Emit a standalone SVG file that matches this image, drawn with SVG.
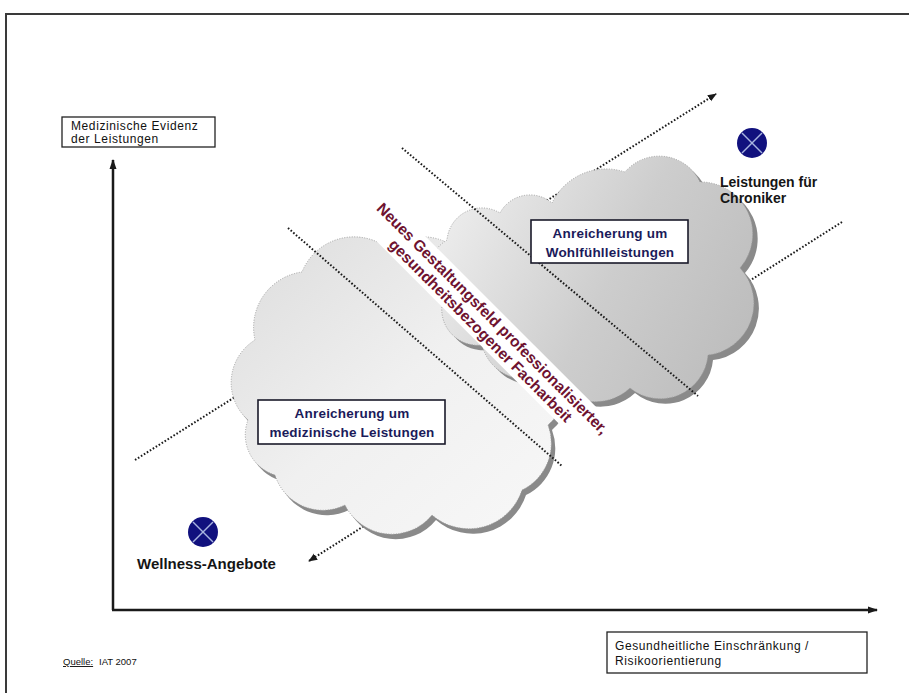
<svg xmlns="http://www.w3.org/2000/svg" width="909" height="693" viewBox="0 0 909 693">
<defs>
<style>
.frame{fill:none;stroke:#3a3a3a;stroke-width:2}
.axis{fill:none;stroke:#1a1a1a;stroke-width:2.5}
.dot{fill:none;stroke:#1a1a1a;stroke-width:2;stroke-dasharray:1.6 1.9}
.box{fill:#fff;stroke:#222;stroke-width:1.3}
.cbox{fill:#fff;stroke:#1a1a2a;stroke-width:1.6}
.lbl{font-family:"Liberation Sans",Arial,sans-serif;font-size:12px;letter-spacing:0.6px;fill:#111}
.src{font-family:"Liberation Sans",Arial,sans-serif;font-size:9.5px;fill:#111}
.clbl{font-family:"Liberation Sans",Arial,sans-serif;font-size:13.5px;letter-spacing:0.2px;font-weight:bold;fill:#1b1b5a;text-anchor:middle}
.blbl{font-family:"Liberation Sans",Arial,sans-serif;font-weight:bold;fill:#151515}
.wa{font-family:"Liberation Sans",Arial,sans-serif;font-size:15.5px;font-weight:bold;fill:#6e1230;text-anchor:middle}
.cloudline{stroke:#a0a0a0;stroke-width:1;stroke-dasharray:1 1.5}
.shadow{fill:#8a8a8a}
.sym{fill:#11117e}
.symx{stroke:#a8b4e0;stroke-width:1.5}
</style>
<linearGradient id="gLow" x1="0" y1="0" x2="1" y2="1">
<stop offset="0" stop-color="#dcdcdc"/>
<stop offset="0.5" stop-color="#f0f0f0"/>
<stop offset="1" stop-color="#f8f8f8"/>
</linearGradient>
<linearGradient id="gUp" x1="0" y1="0.3" x2="1" y2="0.7">
<stop offset="0" stop-color="#eeeeee"/>
<stop offset="0.55" stop-color="#cdcdcd"/>
<stop offset="1" stop-color="#bdbdbd"/>
</linearGradient>
<marker id="ah" viewBox="0 0 10 10" refX="9" refY="5" markerWidth="9" markerHeight="9" markerUnits="userSpaceOnUse" orient="auto">
<path d="M0,1 L10,5 L0,9 Z" fill="#1a1a1a"/>
</marker>
<marker id="axh" viewBox="0 0 10 10" refX="9" refY="5" markerWidth="10" markerHeight="10" markerUnits="userSpaceOnUse" orient="auto">
<path d="M0,1.5 L10,5 L0,8.5 Z" fill="#1a1a1a"/>
</marker>
<path id="cloudLow" d="M248,420 A50,50 0 0 1 255,340 A56,56 0 0 1 302,272 A56,56 0 0 1 390,250 A50,50 0 0 1 470,268 A55,55 0 0 1 535,330 A58,58 0 0 1 548,425 A52,52 0 0 1 522,490 A56,56 0 0 1 432,515 A52,52 0 0 1 345,505 A50,50 0 0 1 275,475 A42,42 0 0 1 248,420 Z"/>
<path id="cloudUp" d="M442,305 A40,40 0 0 1 447,240 A35,35 0 0 1 500,213 A34,34 0 0 1 552,203 A60,60 0 0 1 625,172 A45,45 0 0 1 700,182 A52,52 0 0 1 740,268 A52,52 0 0 1 708,355 A48,48 0 0 1 630,388 A50,50 0 0 1 550,372 A45,45 0 0 1 482,345 A36,36 0 0 1 442,305 Z"/>
</defs>

<rect width="909" height="693" fill="#ffffff"/>

<g id="frame">
<path class="frame" d="M909,14 L6,14 L6,693"/>
</g>

<g id="axes">
<line class="axis" x1="113" y1="610" x2="113" y2="160" marker-end="url(#axh)"/>
<line class="axis" x1="112" y1="610" x2="877" y2="610" marker-end="url(#axh)"/>
</g>

<g id="connectors">
<line class="dot" x1="135" y1="460" x2="716" y2="94" marker-end="url(#ah)"/>
<line class="dot" x1="842" y1="222" x2="309" y2="561" marker-end="url(#ah)"/>
</g>

<g id="cloud-low">
<use href="#cloudLow" class="shadow" transform="translate(4,5)"/>
<use href="#cloudLow" fill="url(#gLow)" class="cloudline"/>
</g>

<g id="cloud-up">
<use href="#cloudUp" class="shadow" transform="translate(5,5)"/>
<use href="#cloudUp" fill="url(#gUp)" class="cloudline"/>
</g>

<g id="band">
<g transform="translate(488,323) rotate(45)">
<rect x="-172" y="-17" width="344" height="38" fill="#ffffff"/>
</g>
</g>

<g id="separators">
<line class="dot" x1="288" y1="228" x2="562" y2="466"/>
<line class="dot" x1="402" y1="148" x2="698" y2="396"/>
</g>

<g id="field-label">
<g transform="translate(488,323) rotate(45)">
<text class="wa" x="0" y="-1">Neues Gestaltungsfeld professionalisierter,</text>
<text class="wa" x="0" y="16">gesundheitsbezogener Facharbeit</text>
</g>
</g>

<g id="box-medizin">
<rect class="cbox" x="258" y="400" width="187" height="44"/>
<text class="clbl" x="352" y="418">Anreicherung um</text>
<text class="clbl" x="352" y="437">medizinische Leistungen</text>
</g>

<g id="box-wohlfuehl">
<rect class="cbox" x="531" y="220" width="157" height="43"/>
<text class="clbl" x="610" y="238">Anreicherung um</text>
<text class="clbl" x="610" y="257">Wohlfühlleistungen</text>
</g>

<g id="node-chroniker">
<circle class="sym" cx="752" cy="143" r="15"/>
<line class="symx" x1="742" y1="133" x2="762" y2="153"/>
<line class="symx" x1="762" y1="133" x2="742" y2="153"/>
<text class="blbl" x="720" y="187" font-size="14">Leistungen für</text>
<text class="blbl" x="720" y="203" font-size="14">Chroniker</text>
</g>

<g id="node-wellness">
<circle class="sym" cx="203" cy="532" r="15"/>
<line class="symx" x1="193" y1="522" x2="213" y2="542"/>
<line class="symx" x1="213" y1="522" x2="193" y2="542"/>
<text class="blbl" x="137" y="569" font-size="15">Wellness-Angebote</text>
</g>

<g id="label-y">
<rect class="box" x="62" y="117" width="153" height="30"/>
<text class="lbl" x="71" y="130">Medizinische Evidenz</text>
<text class="lbl" x="71" y="143">der Leistungen</text>
</g>

<g id="label-x">
<rect class="box" x="607" y="632" width="260" height="41"/>
<text class="lbl" x="615" y="650">Gesundheitliche Einschränkung /</text>
<text class="lbl" x="615" y="665">Risikoorientierung</text>
</g>

<g id="source">
<text class="src" x="63" y="665" text-decoration="underline">Quelle:</text>
<text class="src" x="99" y="665">IAT 2007</text>
</g>
</svg>
